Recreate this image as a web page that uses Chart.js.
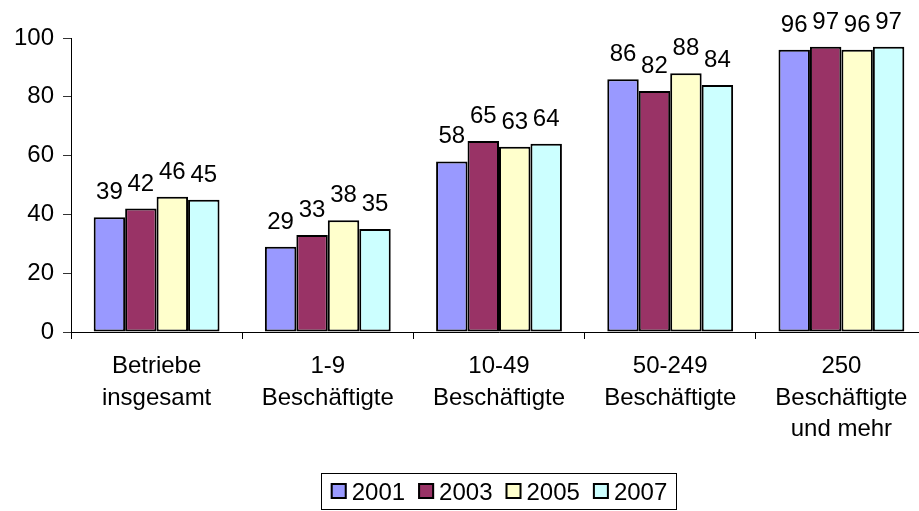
<!DOCTYPE html>
<html lang="de">
<head>
    <meta charset="UTF-8">
    <title>Betriebe nach Größenklassen</title>
    <script src="https://cdn.jsdelivr.net/npm/chart.js"></script>
    <style>
        html, body { margin: 0; padding: 0; background: #fff; overflow: hidden; }
        #wrap { width: 919px; height: 511px; overflow: hidden; }
    </style>
</head>
<body>
    <div id="wrap">
        <canvas id="chart" width="930" height="511"></canvas>
    </div>

    <script>
        const categories = [
            ['Betriebe', 'insgesamt'],
            ['1-9', 'Beschäftigte'],
            ['10-49', 'Beschäftigte'],
            ['50-249', 'Beschäftigte'],
            ['250', 'Beschäftigte', 'und mehr']
        ];
        const years = ['2001', '2003', '2005', '2007'];
        const values2001 = [39, 29, 58, 86, 96];
        const values2003 = [42, 33, 65, 82, 97];
        const values2005 = [46, 38, 63, 88, 96];
        const values2007 = [45, 35, 64, 84, 97];
        const yTicks = [0, 20, 40, 60, 80, 100];

        const colors = ['#9999FF', '#993366', '#FFFFCC', '#CCFFFF'];
        const fontFamily = '"Liberation Sans", Arial, sans-serif';
        const fontSize = 24;

        // value labels above every bar
        const valueLabels = {
            id: 'valueLabels',
            afterDatasetsDraw(chart) {
                const ctx = chart.ctx;
                ctx.save();
                ctx.font = fontSize + 'px ' + fontFamily;
                ctx.fillStyle = '#000';
                ctx.textAlign = 'center';
                ctx.textBaseline = 'alphabetic';
                chart.data.datasets.forEach((ds, i) => {
                    chart.getDatasetMeta(i).data.forEach((bar, j) => {
                        ctx.fillText(String(ds.data[j]), bar.x, bar.y - 18);
                    });
                });
                ctx.restore();
            }
        };

        // framed legend under the axis labels
        const boxLegend = {
            id: 'boxLegend',
            afterDraw(chart) {
                const ctx = chart.ctx;
                const area = chart.chartArea;
                ctx.save();
                ctx.font = fontSize + 'px ' + fontFamily;
                const box = 16, gap = 5, spacing = 13;
                let total = 0;
                const widths = chart.data.datasets.map(ds => ctx.measureText(ds.label).width);
                widths.forEach(w => { total += box + gap + w; });
                total += spacing * (widths.length - 1);
                const cx = (area.left + area.right) / 2;
                const top = 473, h = 36;
                const left = cx - total / 2;
                ctx.strokeStyle = '#000';
                ctx.lineWidth = 1;
                ctx.strokeRect(Math.round(left - 10) + 0.5, top + 0.5, Math.round(total + 18), h);
                let x = left;
                const midY = top + h / 2;
                chart.data.datasets.forEach((ds, i) => {
                    ctx.fillStyle = ds.backgroundColor;
                    ctx.fillRect(x, midY - box / 2, box, box);
                    ctx.lineWidth = 2;
                    ctx.strokeRect(x + 1, midY - box / 2 + 1, box - 2, box - 2);
                    ctx.fillStyle = '#000';
                    ctx.textBaseline = 'alphabetic';
                    ctx.textAlign = 'left';
                    ctx.fillText(ds.label, x + box + gap, midY + 9);
                    x += box + gap + widths[i] + spacing;
                });
                ctx.restore();
            }
        };

        const seriesValues = [values2001, values2003, values2005, values2007];

        new Chart(document.getElementById('chart'), {
            type: 'bar',
            data: {
                labels: categories,
                datasets: years.map((y, i) => ({
                    label: y,
                    data: seriesValues[i],
                    backgroundColor: colors[i],
                    borderColor: '#000',
                    borderWidth: 2,
                    borderSkipped: false,
                    categoryPercentage: 0.735,
                    barPercentage: 1.0
                }))
            },
            options: {
                responsive: false,
                animation: false,
                layout: { padding: { left: 0, top: 38, right: 3, bottom: 0 } },
                plugins: {
                    legend: { display: false },
                    tooltip: { enabled: false }
                },
                scales: {
                    x: {
                        offset: true,
                        grid: {
                            offset: true,
                            drawOnChartArea: false,
                            drawTicks: true,
                            tickLength: 7,
                            color: '#000'
                        },
                        border: { display: true, color: '#000', width: 1 },
                        ticks: {
                            color: '#000',
                            padding: 12,
                            maxRotation: 0,
                            autoSkip: false,
                            font: { family: fontFamily, size: fontSize, lineHeight: 1.31 }
                        },
                        afterFit(scale) { scale.height = 179; }
                    },
                    y: {
                        min: 0,
                        max: 100,
                        afterBuildTicks(scale) { scale.ticks = yTicks.map(v => ({ value: v })); },
                        grid: {
                            drawOnChartArea: false,
                            drawTicks: true,
                            tickLength: 8,
                            color: '#333'
                        },
                        border: { display: true, color: '#000', width: 1 },
                        ticks: {
                            color: '#000',
                            padding: 9,
                            font: { family: fontFamily, size: fontSize }
                        },
                        afterFit(scale) { scale.width = 71; }
                    }
                }
            },
            plugins: [valueLabels, boxLegend]
        });
    </script>
</body>
</html>
